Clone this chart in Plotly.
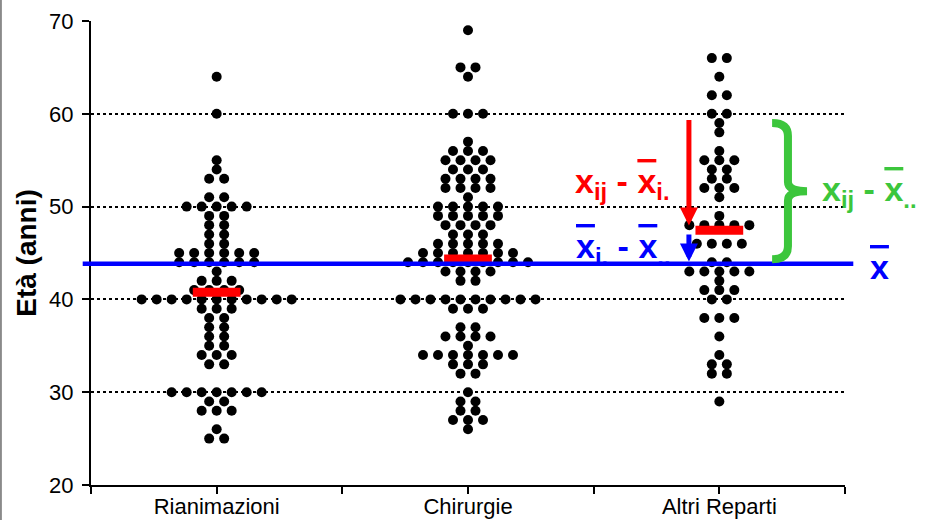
import numpy as np
import plotly.graph_objects as go

# ---------------- data ----------------
CATEGORIES = ["Rianimazioni", "Chirurgie", "Altri Reparti"]

RIAN_AGES = [64, 60, 55, 54, 53, 51, 50, 49, 48, 47, 46, 45, 44, 43, 42, 41, 40,
             39, 38, 37, 36, 35, 34, 33, 30, 29, 28, 26, 25]
RIAN_COUNTS = [1, 1, 1, 1, 2, 2, 5, 2, 2, 2, 2, 6, 6, 1, 3, 4, 11,
               3, 2, 2, 2, 2, 3, 2, 7, 2, 3, 1, 2]

CHIR_AGES = [69, 65, 64, 60, 57, 56, 55, 54, 53, 52, 51, 50, 49, 48, 47, 46, 45,
             44, 43, 42, 40, 39, 37, 36, 35, 34, 33, 32, 30, 29, 28, 27, 26]
CHIR_COUNTS = [1, 2, 1, 3, 1, 3, 4, 3, 4, 4, 1, 5, 5, 4, 3, 5, 7,
               9, 4, 2, 10, 3, 2, 4, 1, 7, 3, 2, 1, 2, 2, 3, 1]

ALTRI_AGES = [66, 64, 62, 60, 59, 58, 56, 55, 54, 53, 52, 51, 49, 48, 46, 44,
              43, 42, 41, 40, 38, 36, 34, 33, 32, 29]
ALTRI_COUNTS = [2, 1, 2, 2, 1, 1, 1, 3, 2, 2, 3, 1, 1, 5, 4, 2,
                5, 1, 3, 2, 3, 1, 1, 2, 2, 1]

Y_TICKS = [20, 30, 40, 50, 60, 70]
Y_TITLE = "Età (anni)"

# ---------------- styling ----------------
DOT_STEP = 0.0597      # horizontal spacing of stacked dots (category units)
BAR_HALF = 0.095       # half width of the group-mean bars
RED = "#FF0000"
BLUE = "#0000FF"
GREEN = "#3CC63C"
FONT = "Liberation Sans"

groups = [(RIAN_AGES, RIAN_COUNTS), (CHIR_AGES, CHIR_COUNTS), (ALTRI_AGES, ALTRI_COUNTS)]

fig = go.Figure()
all_vals = []
means = []
for gi, (ages, counts) in enumerate(groups):
    xs, ys = [], []
    for a, c in zip(ages, counts):
        for k in range(c):
            xs.append(gi + (k - (c - 1) / 2) * DOT_STEP)
            ys.append(a)
    all_vals += ys
    means.append(float(np.mean(ys)))
    fig.add_trace(go.Scatter(
        x=xs, y=ys, mode="markers",
        marker=dict(size=10, color="black", line=dict(width=0)),
        showlegend=False, hoverinfo="y"))

grand = float(np.mean(all_vals))

for gi, m in enumerate(means):
    fig.add_trace(go.Scatter(
        x=[gi - BAR_HALF, gi + BAR_HALF], y=[m, m], mode="lines",
        line=dict(color=RED, width=9), showlegend=False, hoverinfo="skip"))

# grand mean line
shapes = [dict(type="line", xref="paper", x0=-0.011, x1=1.011, yref="y",
               y0=grand, y1=grand, line=dict(color=BLUE, width=4.5), layer="above")]

# green brace spanning an observation down to the grand mean
xl, xm, xt = 2.21, 2.273, 2.349
yt, yb = 59.0, grand + 0.5
ym = (yt + yb) / 2
d1, d2 = 1.4, 1.0
brace = (f"M{xl},{yt} Q{xm},{yt} {xm},{yt - d1} L{xm},{ym + d2} "
         f"Q{xm},{ym} {xt},{ym} Q{xm},{ym} {xm},{ym - d2} L{xm},{yb + d1} "
         f"Q{xm},{yb} {xl},{yb}")
shapes.append(dict(type="path", xref="x", yref="y", path=brace,
                   line=dict(color=GREEN, width=8), layer="above"))

# left frame line
shapes.append(dict(type="line", xref="paper", yref="paper", x0=-0.1195, x1=-0.1195,
                   y0=-0.1, y1=1.1, line=dict(color="#8a8a8a", width=2)))


def ol(t):
    return f'<span style="text-decoration:overline">{t}</span>'


ann_font = dict(family=FONT, size=34, weight="bold")
annotations = [
    # arrows
    dict(x=1.879, y=means[2] + 0.5, ax=1.879, ay=59.5, xref="x", yref="y",
         axref="x", ayref="y", text="", showarrow=True, arrowhead=2,
         arrowsize=0.72, arrowwidth=5, arrowcolor=RED, standoff=0),
    dict(x=1.879, y=grand + 0.25, ax=1.879, ay=means[2] - 0.3, xref="x", yref="y",
         axref="x", ayref="y", text="", showarrow=True, arrowhead=2,
         arrowsize=0.72, arrowwidth=5, arrowcolor=BLUE, standoff=0),
    # labels
    dict(x=1.812, y=52.5, xref="x", yref="y", xanchor="right", yanchor="middle",
         text="x<sub>ij</sub> - " + ol("x") + "<sub>i.</sub>", showarrow=False,
         font=dict(color=RED, **ann_font)),
    dict(x=1.816, y=45.5, xref="x", yref="y", xanchor="right", yanchor="middle",
         text=ol("x") + "<sub>i.</sub> - " + ol("x") + "<sub>..</sub>", showarrow=False,
         font=dict(color=BLUE, **ann_font)),
    dict(x=2.40, y=51.6, xref="x", yref="y", xanchor="left", yanchor="middle",
         text="x<sub>ij</sub> - " + ol("x") + "<sub>..</sub>", showarrow=False,
         font=dict(color=GREEN, **ann_font)),
    dict(x=1.031, y=43.5, xref="paper", yref="y", xanchor="left", yanchor="middle",
         text=ol("x"), showarrow=False, font=dict(color=BLUE, **ann_font)),
]

fig.update_layout(
    width=927, height=520,
    margin=dict(l=91, r=82, t=21, b=35),
    paper_bgcolor="white", plot_bgcolor="white",
    shapes=shapes, annotations=annotations,
    showlegend=False,
    font=dict(family=FONT, color="black"),
)

fig.update_xaxes(
    range=[-0.5, 2.5], automargin=False,
    tickvals=[-0.5, 0, 0.5, 1, 1.5, 2, 2.5],
    ticktext=["", CATEGORIES[0], "", CATEGORIES[1], "", CATEGORIES[2], ""],
    ticks="outside", ticklen=7, tickwidth=2, tickcolor="black",
    showline=True, linewidth=2, linecolor="black",
    showgrid=False, zeroline=False, ticklabelstandoff=-6,
    tickfont=dict(family=FONT, size=22, color="black"),
)
fig.update_yaxes(
    range=[20, 70], tickvals=Y_TICKS, automargin=False,
    ticks="outside", ticklen=7, tickwidth=2, tickcolor="black",
    showline=True, linewidth=2, linecolor="black",
    showgrid=True, gridcolor="black", gridwidth=1.5, griddash="dot",
    zeroline=False, ticklabelstandoff=4,
    tickfont=dict(family=FONT, size=22, color="black"),
    title=dict(text="<b>" + Y_TITLE + "</b>", font=dict(family=FONT, size=28, color="black"),
               standoff=4),
)

fig.write_html("out.html")
